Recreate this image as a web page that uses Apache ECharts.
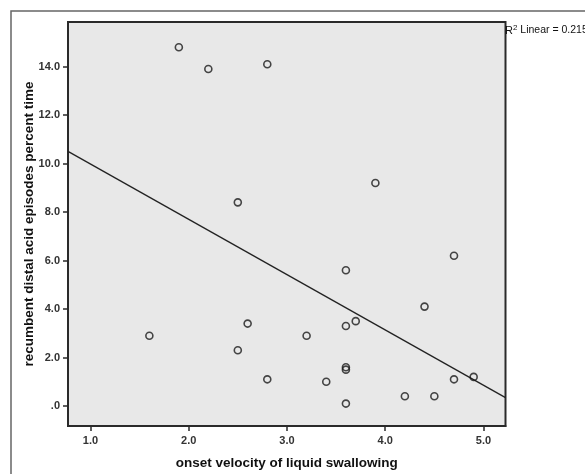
<!DOCTYPE html>
<html>
<head>
<meta charset="utf-8">
<script src="https://cdn.jsdelivr.net/npm/echarts@6/dist/echarts.min.js"></script>
<style>
  html, body { margin: 0; padding: 0; background: #fff; }
  #chart { width: 585px; height: 474px; }
</style>
</head>
<body>
<div id="chart"></div>
<script>
// onset velocity (x) vs recumbent distal acid episodes percent time (y)
var velocity = [1.9, 2.2, 2.8, 2.5, 1.6, 2.6, 2.5, 2.8, 3.9, 4.7, 3.6, 4.4, 3.6, 3.7, 3.2, 3.6, 3.6, 3.4, 4.7, 4.9, 4.2, 4.5, 3.6];
var percentTime = [14.8, 13.9, 14.1, 8.4, 2.9, 3.4, 2.3, 1.1, 9.2, 6.2, 5.6, 4.1, 3.3, 3.5, 2.9, 1.6, 1.5, 1.0, 1.1, 1.2, 0.4, 0.4, 0.1];
var xTicks = [1, 2, 3, 4, 5];
var yTicks = [0, 2, 4, 6, 8, 10, 12, 14];
var r2Label = '0.215';

var xMin = 0.772, xMax = 5.224;
var yMin = -0.825, yMax = 15.84;

// least squares fit line
var n = velocity.length, mx = 0, my = 0;
for (var i = 0; i < n; i++) { mx += velocity[i]; my += percentTime[i]; }
mx /= n; my /= n;
var sxx = 0, sxy = 0;
for (var i = 0; i < n; i++) {
    sxx += (velocity[i] - mx) * (velocity[i] - mx);
    sxy += (velocity[i] - mx) * (percentTime[i] - my);
}
var slope = sxy / sxx;
var intercept = my - slope * mx;
var fitLine = [[xMin, intercept + slope * xMin], [xMax, intercept + slope * xMax]];

var points = velocity.map(function (v, i) { return [v, percentTime[i]]; });

var font = 'Liberation Sans';
var myChart = echarts.init(document.getElementById('chart'));
var option = {
    animation: false,
    backgroundColor: '#fff',
    grid: {
        left: 68, top: 22, right: 79.5, bottom: 48,
        containLabel: false,
        outerBoundsMode: 'none',
        show: true,
        backgroundColor: '#e8e8e8',
        borderColor: '#2a2a2a',
        borderWidth: 2
    },
    graphic: [
        {
            type: 'rect',
            shape: { x: 11, y: 11, width: 640, height: 520 },
            style: { fill: 'none', stroke: '#666', lineWidth: 1.5 },
            z: -10
        },
        {
            type: 'text',
            left: 505, top: 24,
            style: {
                text: '{r|R}{sup|2}{t| Linear = ' + r2Label + '}',
                rich: {
                    r: { fontSize: 11, fontFamily: font, fill: '#111' },
                    sup: { fontSize: 8, fontFamily: font, fill: '#111', verticalAlign: 'top', padding: [0, 0, 5, 0] },
                    t: { fontSize: 10.5, fontFamily: font, fill: '#111' }
                }
            }
        }
    ],
    xAxis: {
        type: 'value',
        min: xMin, max: xMax,
        name: 'onset velocity of liquid swallowing',
        nameLocation: 'middle',
        nameGap: 30,
        nameMoveOverlap: false,
        nameTextStyle: { fontFamily: font, fontWeight: 'bold', fontSize: 13.5, color: '#111' },
        axisLine: { show: true, onZero: false, lineStyle: { color: '#2a2a2a', width: 2 } },
        axisTick: { show: true, length: 5, lineStyle: { color: '#2a2a2a', width: 1.5 }, customValues: xTicks },
        axisLabel: {
            customValues: xTicks,
            fontFamily: font, fontWeight: 'bold', fontSize: 11, color: '#333', margin: 9,
            formatter: function (v) { return v.toFixed(1); }
        },
        splitLine: { show: false }
    },
    yAxis: {
        type: 'value',
        min: yMin, max: yMax,
        name: 'recumbent distal acid episodes percent time',
        nameLocation: 'middle',
        nameGap: 32,
        nameMoveOverlap: false,
        nameTextStyle: { fontFamily: font, fontWeight: 'bold', fontSize: 13.5, color: '#111' },
        axisLine: { show: true, onZero: false, lineStyle: { color: '#2a2a2a', width: 2 } },
        axisTick: { show: true, length: 5, lineStyle: { color: '#2a2a2a', width: 1.5 }, customValues: yTicks },
        axisLabel: {
            customValues: yTicks,
            fontFamily: font, fontWeight: 'bold', fontSize: 11, color: '#333', margin: 8,
            formatter: function (v) { return v === 0 ? '.0' : v.toFixed(1); }
        },
        splitLine: { show: false }
    },
    series: [
        {
            type: 'line',
            data: fitLine,
            symbol: 'none',
            lineStyle: { color: '#222', width: 1.3 },
            silent: true,
            z: 2
        },
        {
            type: 'scatter',
            data: points,
            symbol: 'circle',
            symbolSize: 7,
            itemStyle: { color: 'rgba(0,0,0,0)', borderColor: '#1a1a1a', borderWidth: 1.6 },
            z: 3
        }
    ]
};
if (option && typeof option === "object") {
    myChart.setOption(option, true);
}
</script>
</body>
</html>
